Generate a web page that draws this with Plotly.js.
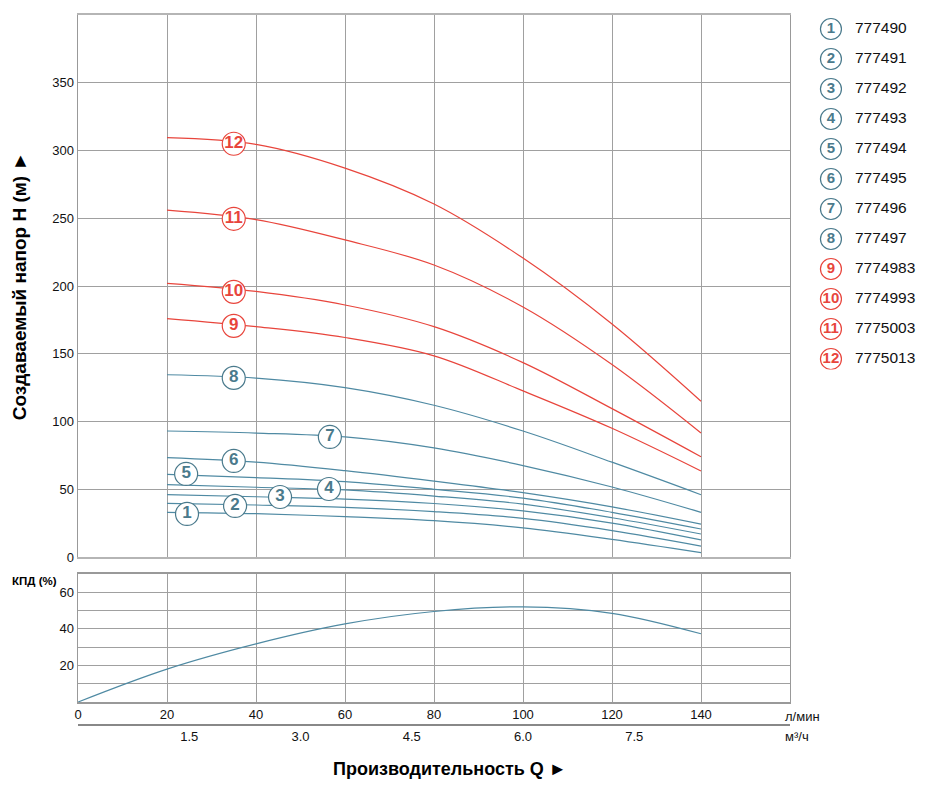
<!DOCTYPE html>
<html>
<head>
<meta charset="utf-8">
<script src="https://cdn.plot.ly/plotly-3.0.1.min.js"></script>
<style>
  html, body { margin: 0; padding: 0; background: #fff; }
  #chart { width: 930px; height: 800px; }
</style>
</head>
<body>
<div id="chart"></div>
<script>
// flow points, l/min
const flow = [20, 40, 60, 80, 100, 120, 140]

// head, m
const head1 = [33, 32, 29.8, 26.8, 21.5, 13, 3.2]
const head2 = [39.6, 38.4, 36.7, 33.5, 28.5, 19.5, 8.1]
const head3 = [46, 44.5, 42.8, 39.5, 34, 25, 12.6]
const head4 = [53.4, 51.5, 49.5, 45, 39, 29, 17]
const head5 = [61, 58.6, 55.6, 50, 43.5, 33, 20.7]
const head6 = [73.3, 70, 63.7, 56, 47.5, 37, 24.3]
const head7 = [93, 91.5, 88.6, 80.5, 67.5, 51.7, 33]
const head8 = [134.5, 132, 125, 112, 93, 70, 46]
const head9 = [176, 170, 162, 148.5, 122.6, 95, 63.5]
const head10 = [202, 196, 186, 170, 143.5, 109.5, 74]
const head11 = [256, 249, 234, 215.5, 184.5, 142, 91.5]
const head12 = [309.5, 304.5, 287, 260.5, 220.6, 172, 115]

const curveNames = ["777490", "777491", "777492", "777493", "777494", "777495",
  "777496", "777497", "7774983", "7774993", "7775003", "7775013"]

// where the numbered circles sit on each curve
const labelFlow = [24.5, 35.3, 45.4, 56.4, 24.3, 35, 56.6, 35, 35, 35, 35, 35]
const labelHead = [31.8, 37.7, 44.3, 50.2, 61.3, 70.9, 88.6, 132.2, 170.6, 195.7, 249.6, 305]

// efficiency, %
const effFlow = [0, 20, 40, 60, 80, 100, 120, 140]
const effValue = [0, 18, 31.8, 42.7, 49.5, 52, 48.5, 37.3]

const headTicks = [0, 50, 100, 150, 200, 250, 300, 350]
const flowTicks = [0, 20, 40, 60, 80, 100, 120, 140]
const effTicks = [10, 20, 30, 40, 50, 60]
const effTickText = ["", "20", "", "40", "", "60"]
const m3hTicks = [1.5, 3.0, 4.5, 6.0, 7.5]

const heads = [head1, head2, head3, head4, head5, head6, head7, head8, head9, head10, head11, head12]

const BLUE = "#4f8aa3"
const BLUE_TXT = "#4a7a8c"
const RED = "#e8453c"
const FONT = "Liberation Sans, Arial, sans-serif"

const colorOf = (i) => i < 8 ? BLUE : RED
const textColorOf = (i) => i < 8 ? BLUE_TXT : RED

const traces = []

heads.forEach((h, i) => {
  traces.push({
    x: flow, y: h, xaxis: "x", yaxis: "y",
    mode: "lines",
    line: { color: colorOf(i), width: 1.2, shape: "spline", smoothing: 1 },
    hoverinfo: "skip", showlegend: false
  })
})

// numbered circles on the curves
traces.push({
  x: labelFlow, y: labelHead, xaxis: "x", yaxis: "y",
  mode: "markers+text",
  text: heads.map((h, i) => String(i + 1)),
  textposition: "middle center",
  textfont: { family: FONT, size: 17, weight: "bold", color: heads.map((h, i) => textColorOf(i)) },
  marker: { size: 23, color: "#fff", line: { width: 1.2, color: heads.map((h, i) => textColorOf(i)) } },
  hoverinfo: "skip", showlegend: false
})

// efficiency curve
traces.push({
  x: effFlow, y: effValue, xaxis: "x2", yaxis: "y2",
  mode: "lines",
  line: { color: BLUE, width: 1.2, shape: "spline", smoothing: 1 },
  hoverinfo: "skip", showlegend: false
})

// dummy trace so the m3/h axis is drawn
traces.push({
  x: [0, 9.6], y: [null, null], xaxis: "x3", yaxis: "y2",
  mode: "lines", hoverinfo: "skip", showlegend: false
})

// side legend: circles + article numbers
const legendRows = heads.map((h, i) => i)
traces.push({
  x: legendRows.map(() => 0), y: legendRows, xaxis: "x4", yaxis: "y3",
  mode: "markers+text",
  text: legendRows.map(i => String(i + 1)),
  textposition: "middle center",
  textfont: { family: FONT, size: 15, weight: "bold", color: legendRows.map(i => textColorOf(i)) },
  marker: { size: 21, color: "#fff", line: { width: 1.2, color: legendRows.map(i => textColorOf(i)) } },
  hoverinfo: "skip", showlegend: false
})
traces.push({
  x: legendRows.map(() => 1), y: legendRows, xaxis: "x4", yaxis: "y3",
  mode: "text",
  text: curveNames,
  textposition: "middle right",
  textfont: { family: FONT, size: 15.5, color: "#111" },
  hoverinfo: "skip", showlegend: false
})

const gridColor = "#a0a0a0"
const tickFont = { family: FONT, size: 13, color: "#111" }

const layout = {
  width: 930,
  height: 800,
  margin: { l: 78, r: 10, t: 15, b: 76, pad: 0 },
  paper_bgcolor: "#fff",
  plot_bgcolor: "#fff",
  font: { family: FONT, color: "#111" },
  xaxis: {
    domain: [0, 0.8456], range: [0, 160], anchor: "y",
    tickvals: flowTicks, showticklabels: false, ticks: "",
    showgrid: true, gridcolor: gridColor, gridwidth: 1,
    showline: true, linecolor: "#b5b5b5", linewidth: 2, mirror: true,
    zeroline: false, fixedrange: true
  },
  yaxis: {
    domain: [0.2355, 1], range: [0, 400], anchor: "x",
    tickvals: headTicks, ticks: "", tickfont: tickFont,
    showgrid: true, gridcolor: gridColor, gridwidth: 1,
    showline: true, linecolor: "#999", linewidth: 1.5, mirror: true,
    zeroline: false, fixedrange: true,
    title: {
      text: "Создаваемый напор H (м) ►",
      font: { family: FONT, size: 19, weight: "bold", color: "#000" },
      standoff: 20
    }
  },
  xaxis2: {
    domain: [0, 0.8456], range: [0, 160], anchor: "y2",
    tickvals: flowTicks, ticks: "", tickfont: tickFont,
    showgrid: true, gridcolor: gridColor, gridwidth: 1,
    showline: true, linecolor: "#999", linewidth: 1.5, mirror: true,
    zeroline: false, fixedrange: true
  },
  yaxis2: {
    domain: [0.031, 0.2116], range: [0, 70], anchor: "x2",
    tickvals: effTicks, ticktext: effTickText, ticks: "", tickfont: tickFont,
    showgrid: true, gridcolor: gridColor, gridwidth: 1,
    showline: true, linecolor: "#999", linewidth: 1.5, mirror: true,
    zeroline: false, fixedrange: true
  },
  xaxis3: {
    overlaying: "x2", anchor: "free", position: 0, side: "bottom",
    range: [0, 9.6], tickvals: m3hTicks, ticktext: m3hTicks.map(v => v.toFixed(1)),
    ticks: "", tickfont: tickFont,
    showgrid: false, showline: true, linecolor: "#888", linewidth: 1.5,
    zeroline: false, fixedrange: true
  },
  xaxis4: {
    domain: [0.88, 1], range: [-0.5, 3.71], anchor: "y3",
    visible: false, fixedrange: true
  },
  yaxis3: {
    domain: [0.5, 1], range: [11.35, -0.467], anchor: "x4",
    visible: false, fixedrange: true
  },
  annotations: [
    {
      xref: "paper", yref: "paper", x: 0.4418, y: -0.0635,
      xanchor: "center", yanchor: "middle", showarrow: false,
      text: "Производительность Q ►",
      font: { family: FONT, size: 18, weight: "bold", color: "#000" }
    },
    {
      xref: "paper", yref: "paper", x: -0.0808, y: 0.2116,
      xanchor: "left", yanchor: "top", yshift: 1, showarrow: false,
      text: "КПД (%)",
      font: { family: FONT, size: 11.5, weight: "bold", color: "#000" }
    },
    {
      xref: "paper", yref: "paper", x: 0.837, y: 0.0106,
      xanchor: "left", yanchor: "middle", showarrow: false,
      text: "л/мин", font: { family: FONT, size: 13, color: "#111" }
    },
    {
      xref: "paper", yref: "paper", x: 0.837, y: -0.0183,
      xanchor: "left", yanchor: "middle", showarrow: false,
      text: "м³/ч", font: { family: FONT, size: 13, color: "#111" }
    }
  ]
}

Plotly.newPlot("chart", traces, layout, { displayModeBar: false, staticPlot: true })
</script>
</body>
</html>
